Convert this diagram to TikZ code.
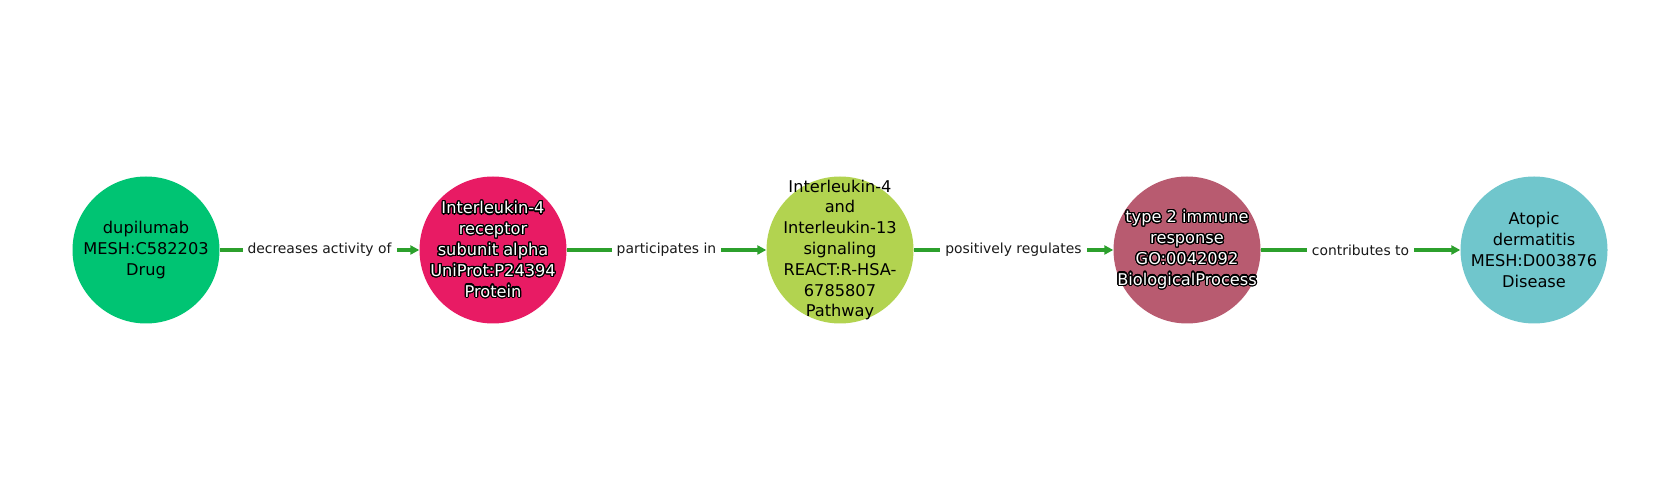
\documentclass[tikz,border=0pt]{standalone}
\usepackage{fontspec}
\setmainfont{DejaVu Sans}
\usepackage{contour}
\contourlength{1.2pt}
\contournumber{24}
\usetikzlibrary{arrows.meta}
\definecolor{cdrug}{RGB}{0,196,115}
\definecolor{cprot}{RGB}{232,27,100}
\definecolor{cpath}{RGB}{178,211,80}
\definecolor{cproc}{RGB}{184,91,112}
\definecolor{cdis}{RGB}{112,198,204}
\definecolor{cedge}{RGB}{44,160,44}
\newcommand{\wl}[1]{\contour{black}{\textcolor{white}{#1}}}
\tikzset{
  ent/.style={circle, minimum size=147pt, inner sep=0pt},
  enttext/.style={align=center, inner sep=0pt, font=\fontsize{16.2}{20.8}\selectfont},
  rel/.style={draw=cedge, line width=3.2pt, -{Triangle[length=9pt,width=9pt]}},
  lbl/.style={fill=white, inner sep=5pt, font=\fontsize{13.9}{16}\selectfont, text=black!90}
}
\begin{document}
\begin{tikzpicture}[x=1pt,y=1pt]
\useasboundingbox (0,0) rectangle (1680,500);
\node[ent, fill=cdrug, label={[enttext]center:{dupilumab\\MESH:C582203\\Drug}}] (n1) at (146,250) {};
\node[ent, fill=cprot, label={[enttext]center:{\wl{Interleukin-4}\\\wl{receptor}\\\wl{subunit alpha}\\\wl{UniProt:P24394}\\\wl{Protein}}}] (n2) at (493,250) {};
\node[ent, fill=cpath, label={[enttext]center:{Interleukin-4\\and\\Interleukin-13\\signaling\\REACT:R-HSA-\\6785807\\Pathway}}] (n3) at (840,250) {};
\node[ent, fill=cproc, label={[enttext]center:{\wl{type 2 immune}\\\wl{response}\\\wl{GO:0042092}\\\wl{BiologicalProcess}}}] (n4) at (1187,250) {};
\node[ent, fill=cdis, label={[enttext]center:{Atopic\\dermatitis\\MESH:D003876\\Disease}}] (n5) at (1534,250) {};
\draw[rel] (n1) -- node[lbl] {decreases activity of} (n2);
\draw[rel] (n2) -- node[lbl] {participates in} (n3);
\draw[rel] (n3) -- node[lbl] {positively regulates} (n4);
\draw[rel] (n4) -- node[lbl] {contributes to} (n5);
\end{tikzpicture}
\end{document}
